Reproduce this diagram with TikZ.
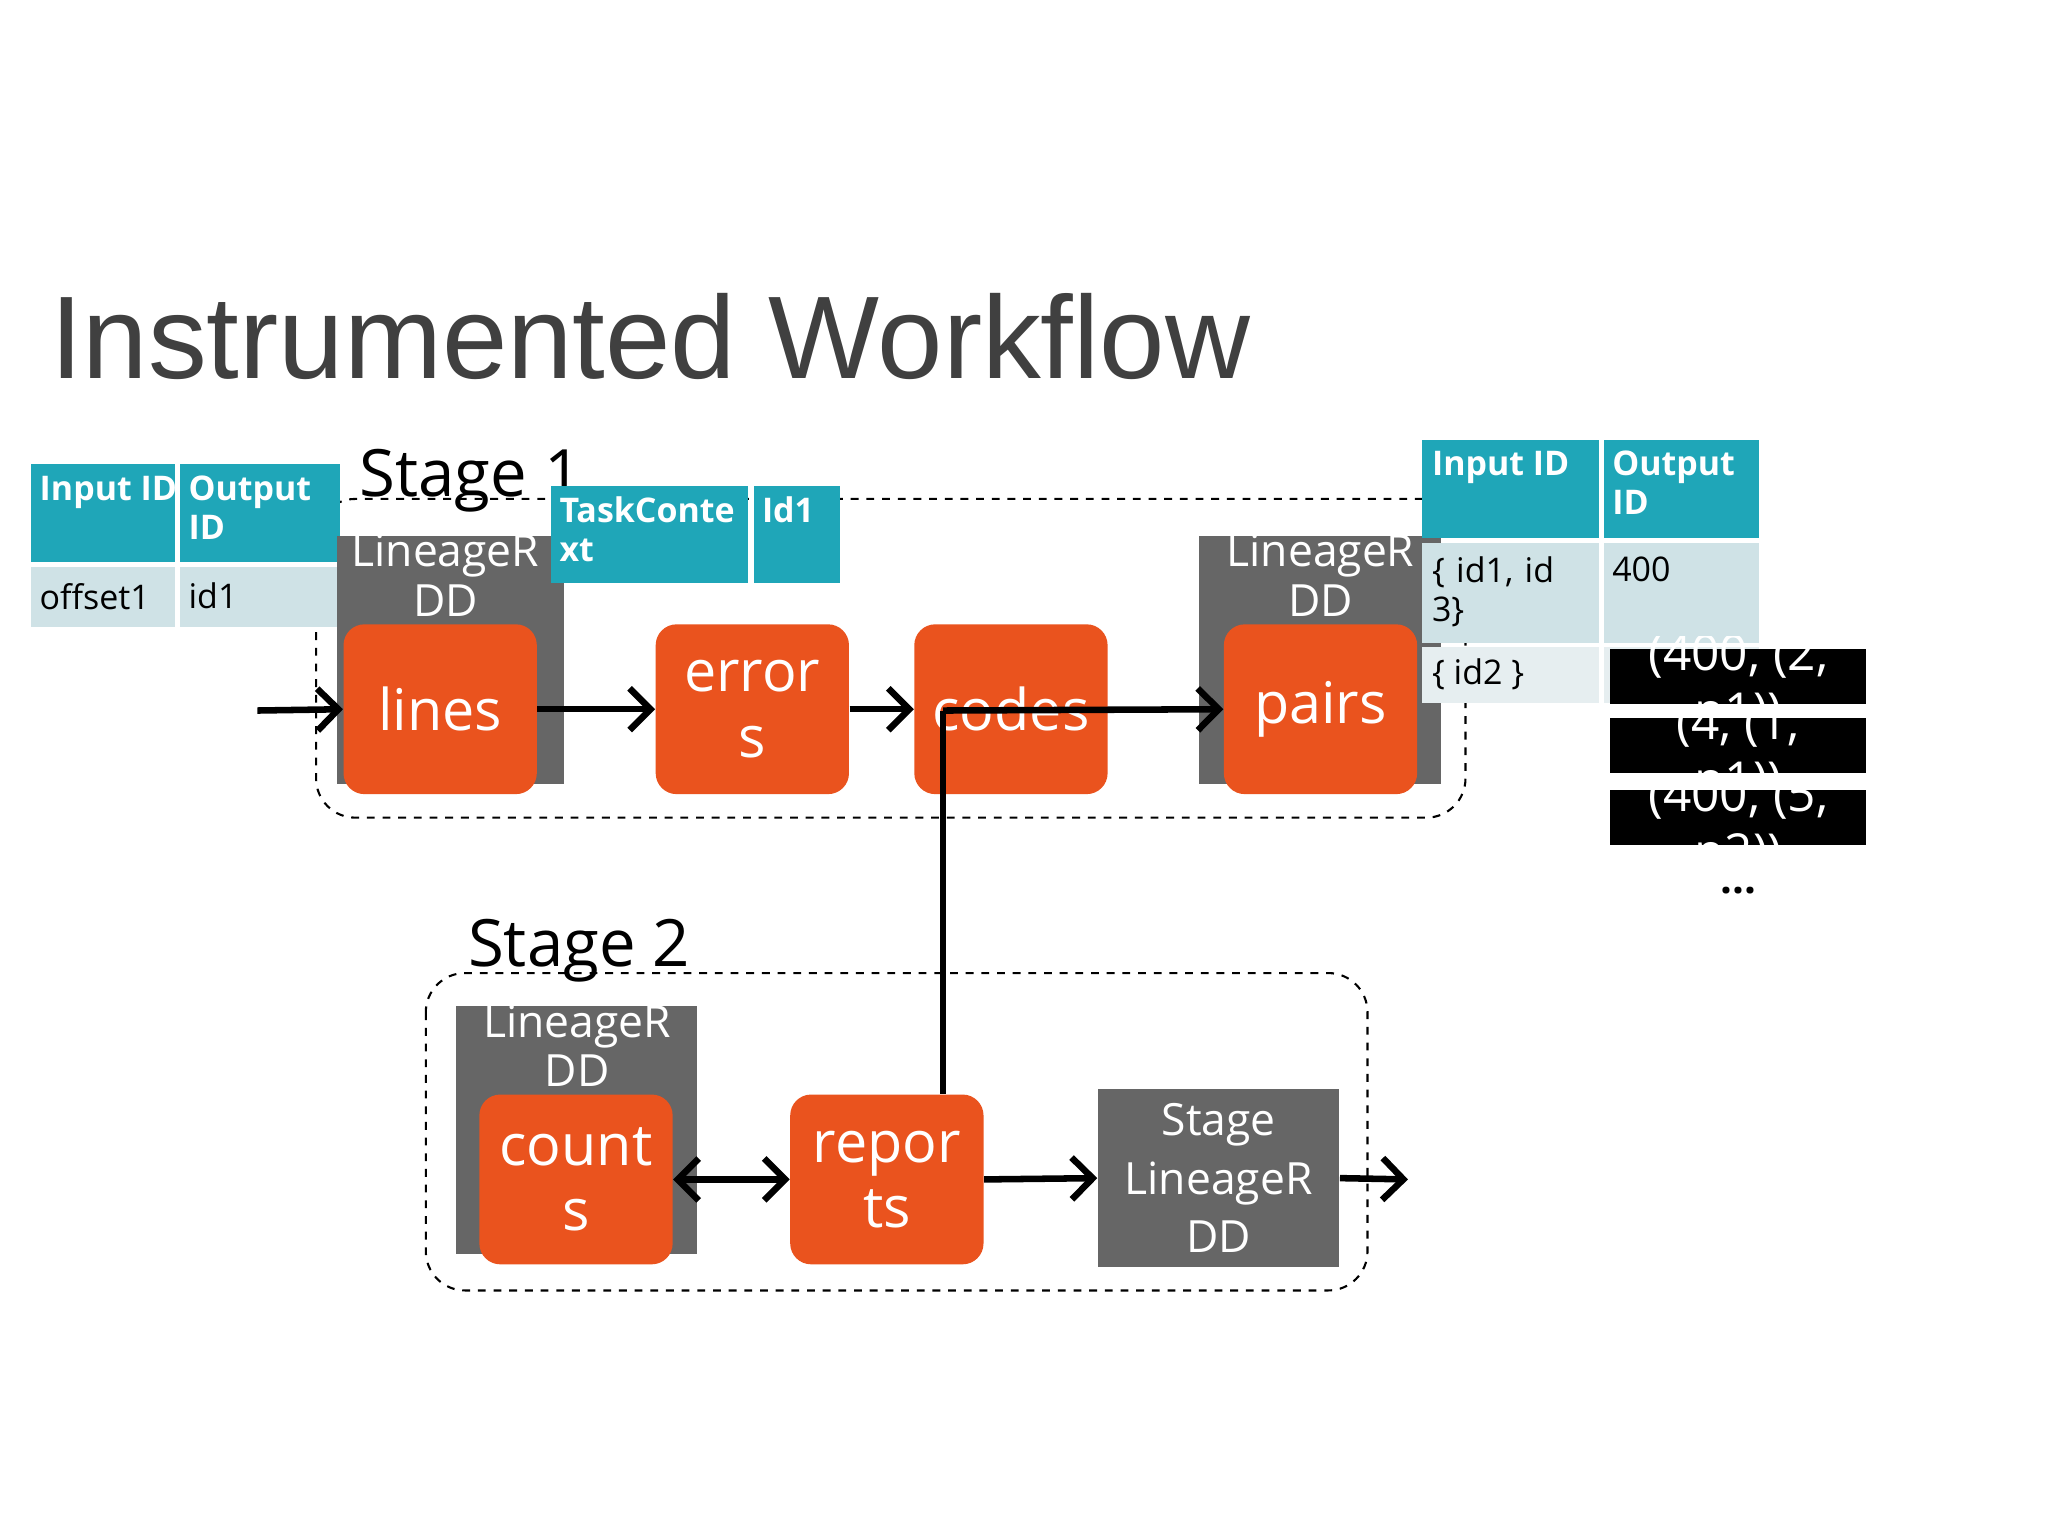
\documentclass[tikz,border=0pt]{standalone}
\usepackage{fontspec}
\setmainfont{Open Sans}
\newfontfamily\tfont{Liberation Sans}
\usetikzlibrary{arrows.meta}
\definecolor{org}{HTML}{EA531E}
\definecolor{gr}{HTML}{666666}
\definecolor{teal}{HTML}{1FA6B8}
\definecolor{lt}{HTML}{CFE2E6}
\definecolor{lt2}{HTML}{E6EEF0}
\begin{document}
\begin{tikzpicture}[x=0.5pt,y=-0.5pt,
 op/.style={fill=org,rounded corners=8pt,draw=none},
 gb/.style={fill=gr},
 ot/.style={text=white,font=\fontsize{22}{25}\selectfont,align=center},
 gt/.style={text=white,font=\fontsize{17}{19}\selectfont,align=center,anchor=north},
 tt/.style={font=\fontsize{13}{15}\selectfont,anchor=north west,align=left,inner sep=2pt},
 stage/.style={draw,dashed,rounded corners=15pt,thick},
 tip/.style={Straight Barb[length=8pt,width=16pt,line width=2.5pt]},
 arr/.style={line width=2.5pt,-{Straight Barb[length=8pt,width=16pt]}}]
\useasboundingbox (0,0) rectangle (1568,1176);
\fill[white] (0,0) rectangle (1568,1176);
\node[anchor=base west,inner sep=0,text=black!75,font=\tfont\fontsize{45}{50}\selectfont] (title) at (38,290) {Instrumented Workflow};
% stage 1
\draw[stage] (242,382) rectangle (1122,626);
\node[anchor=base west,inner sep=0,font=\fontsize{25}{28}\selectfont] (s1) at (275,380) {Stage 1};
% left table
\fill[teal] (24,355) rectangle (134,430); \fill[teal] (138,355) rectangle (260,430);
\fill[lt] (24,434) rectangle (134,480); \fill[lt] (138,434) rectangle (260,480);
\node[tt,text=white,font=\bfseries\fontsize{13}{15}\selectfont] (l1) at (26,360) {Input ID};
\node[tt,text=white,font=\bfseries\fontsize{13}{15}\selectfont,text width=55pt] (l2) at (140,360) {Output ID};
\node[tt] (l3) at (26,442) {offset1};
\node[tt] (l4) at (140,442) {id1};
% lineage 1
\fill[gr] (258,410) rectangle (432,600);
\node[gt] (g1) at (341,402) {LineageR\\DD};
\node[op,minimum width=74pt,minimum height=65pt] (lines) at (337,543) {};
\node[ot] at (lines) {lines};
% task ctx
\fill[teal] (422,372) rectangle (573,446); \fill[teal] (577,372) rectangle (643,446);
\node[tt,text=white,font=\bfseries\fontsize{13}{15}\selectfont,text width=70pt] (tc) at (424,376) {TaskConte xt};
\node[tt,text=white,font=\bfseries\fontsize{13}{15}\selectfont] (tc2) at (579,376) {Id1};
\node[op,minimum width=74pt,minimum height=65pt] (err) at (576,543) {};
\node[ot] at (err) {error\\s};
\node[op,minimum width=74pt,minimum height=65pt] (codes) at (774,543) {};
\node[ot] at (codes) {codes};
\fill[gr] (918,410) rectangle (1103,600);
\node[gt] (g2) at (1011,402) {LineageR\\DD};
\node[op,minimum width=74pt,minimum height=65pt] (pairs) at (1011,543) {};
\node[ot] at (pairs) {pairs};
% right table
\fill[teal] (1089,337) rectangle (1224,412); \fill[teal] (1228,337) rectangle (1347,412);
\fill[lt] (1089,416) rectangle (1224,492); \fill[lt] (1228,416) rectangle (1347,492);
\fill[lt2] (1089,495) rectangle (1224,538); \fill[lt2] (1228,495) rectangle (1347,538);
\node[tt,text=white,font=\bfseries\fontsize{13}{15}\selectfont] (r1) at (1092,341) {Input ID};
\node[tt,text=white,font=\bfseries\fontsize{13}{15}\selectfont,text width=55pt] (r2) at (1230,341) {Output ID};
\node[tt,text width=60pt] (r3) at (1092,422) {\{ id1, id 3\}};
\node[tt] (r4) at (1230,422) {400};
\node[tt] (r5) at (1092,500) {\{ id2 \}};
% black boxes
\foreach \y/\t in {497/{(400, (2,\\p1))},550/{(4, (1,\\p1))},605/{(400, (5,\\p2))}}{
 \fill[black] (1233,\y) rectangle (1429,\y+42);
 \begin{scope}\clip (1233,\y-10) rectangle (1429,\y+42);
 \node[text=white,font=\fontsize{19}{22}\selectfont,align=center,anchor=north] at (1331,\y-18) {\t};
 \end{scope}}
\node[font=\bfseries\fontsize{16}{16}\selectfont] (dots) at (1331,682) {...};
% arrows stage 1
\coordinate (in) at (197,544);
\draw[arr] (in) -- (lines.west);
\draw[arr] (lines.east) -- (err.west);
\draw[arr] (err.east) -- (codes.west);
\coordinate (cj) at (722,544);
\draw[arr] (cj) -- (pairs.west);
% stage 2
\draw[stage] (326,745) rectangle (1047,988);
\node[anchor=base west,inner sep=0,font=\fontsize{25}{28}\selectfont] (s2) at (358,740) {Stage 2};
\fill[gr] (349,770) rectangle (534,960);
\node[gt] (g3) at (442,762) {LineageR\\DD};
\node[op,minimum width=74pt,minimum height=65pt] (counts) at (441,903) {};
\node[ot] at (counts) {count\\s};
\node[op,minimum width=74pt,minimum height=65pt] (reports) at (679,903) {};
\node[ot] at (reports) {repor\\ts};
\node[fill=gr,minimum width=92.5pt,minimum height=68pt,inner sep=0] (slr) at (933,902) {};
\node[text=white,font=\fontsize{17}{22.5}\selectfont,align=center] at (slr) {Stage\\LineageR\\DD};
\coordinate (out) at (1078,903);
\draw[line width=2.5pt] (cj) -- (cj|-reports.north);
\draw[line width=2.5pt,{Straight Barb[length=8pt,width=16pt]}-{Straight Barb[length=8pt,width=16pt]}] (counts.east) -- (reports.west);
\draw[arr] (reports.east) -- (slr.west);
\draw[arr] (slr.east) -- (out);
\end{tikzpicture}
\end{document}
